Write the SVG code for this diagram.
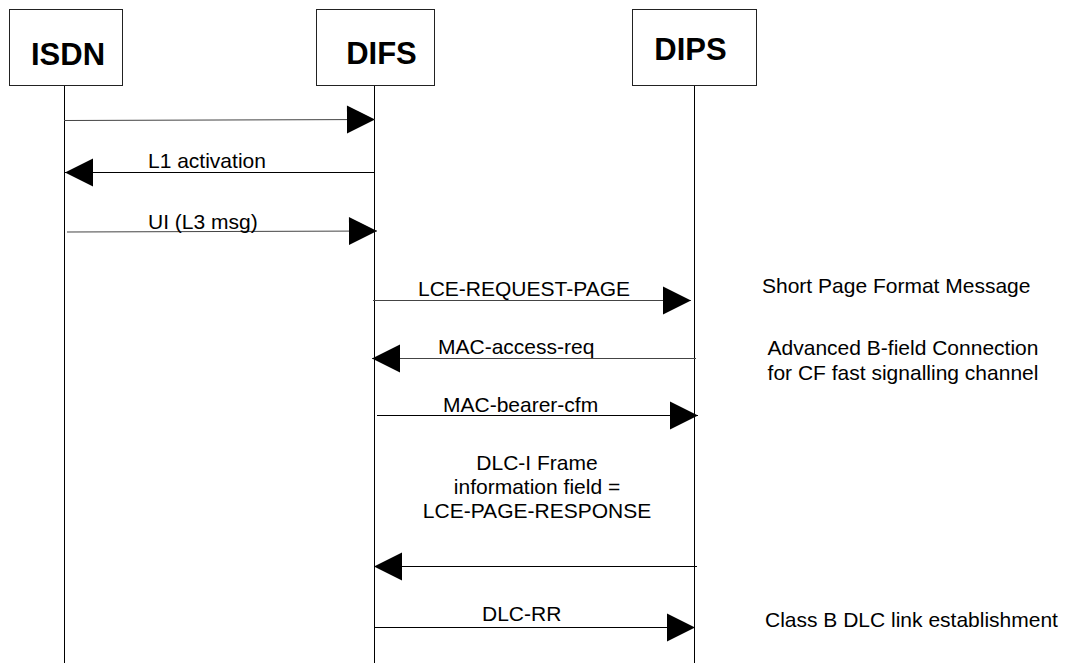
<svg xmlns="http://www.w3.org/2000/svg" width="1066" height="663" viewBox="0 0 1066 663">
<style>
.box{fill:#fff;stroke:#222;stroke-width:1}
.life{stroke:#000;stroke-width:1}
.hdr{font-family:"Liberation Sans",Arial,sans-serif;font-weight:bold;font-size:31px;fill:#000;text-anchor:middle}
.lbl{font-family:"Liberation Sans",Arial,sans-serif;font-size:21px;fill:#000}
.mid{text-anchor:middle}
.msg{stroke:#000;stroke-width:1;fill:none;marker-end:url(#ah)}
.gray{stroke:#444}
</style>
<defs>
<marker id="ah" markerUnits="userSpaceOnUse" markerWidth="29" markerHeight="29" refX="28" refY="14" orient="auto" overflow="visible">
<path d="M0,0 L28,14 L0,28 Z" fill="#000"/>
</marker>
</defs>
<g id="ISDN">
<rect class="box" x="9.5" y="9.5" width="113" height="76"/>
<text class="hdr" x="68" y="65">ISDN</text>
<line class="life" x1="64.5" y1="86" x2="64.5" y2="663"/>
</g>
<g id="DIFS">
<rect class="box" x="316.5" y="9.5" width="118" height="76"/>
<text class="hdr" x="381.5" y="64">DIFS</text>
<line class="life" x1="374.5" y1="86" x2="374.5" y2="663"/>
</g>
<g id="DIPS">
<rect class="box" x="632.5" y="9.5" width="124" height="76"/>
<text class="hdr" x="690.5" y="60">DIPS</text>
<line class="life" x1="694.5" y1="86" x2="694.5" y2="663"/>
</g>
<g id="connectors">
<line class="msg gray" x1="64" y1="120.5" x2="375" y2="119.5"/>
<line class="msg" x1="375" y1="172.5" x2="65" y2="172.5"/>
<text class="lbl" x="148" y="168">L1 activation</text>
<line class="msg gray" x1="67" y1="232" x2="377" y2="231"/>
<text class="lbl" x="148" y="229">UI (L3 msg)</text>
<line class="msg gray" x1="373" y1="300.5" x2="691" y2="300.5"/>
<text class="lbl" x="418" y="296">LCE-REQUEST-PAGE</text>
<line class="msg gray" x1="696" y1="358.5" x2="372" y2="358.5"/>
<text class="lbl" x="438" y="354">MAC-access-req</text>
<line class="msg" x1="377" y1="415.5" x2="698" y2="415.5"/>
<text class="lbl" x="443" y="412">MAC-bearer-cfm</text>
<text class="lbl mid" x="537" y="470">DLC-I Frame</text>
<text class="lbl mid" x="537" y="494">information field =</text>
<text class="lbl mid" x="537" y="518">LCE-PAGE-RESPONSE</text>
<line class="msg" x1="697" y1="566.5" x2="374" y2="566.5"/>
<line class="msg" x1="374" y1="627.5" x2="695" y2="627.5"/>
<text class="lbl" x="482" y="621">DLC-RR</text>
</g>
<g id="notes">
<text class="lbl" x="762" y="293">Short Page Format Message</text>
<text class="lbl mid" x="903" y="355">Advanced B-field Connection</text>
<text class="lbl mid" x="903" y="380">for CF fast signalling channel</text>
<text class="lbl" x="765" y="627">Class B DLC link establishment</text>
</g>
</svg>
